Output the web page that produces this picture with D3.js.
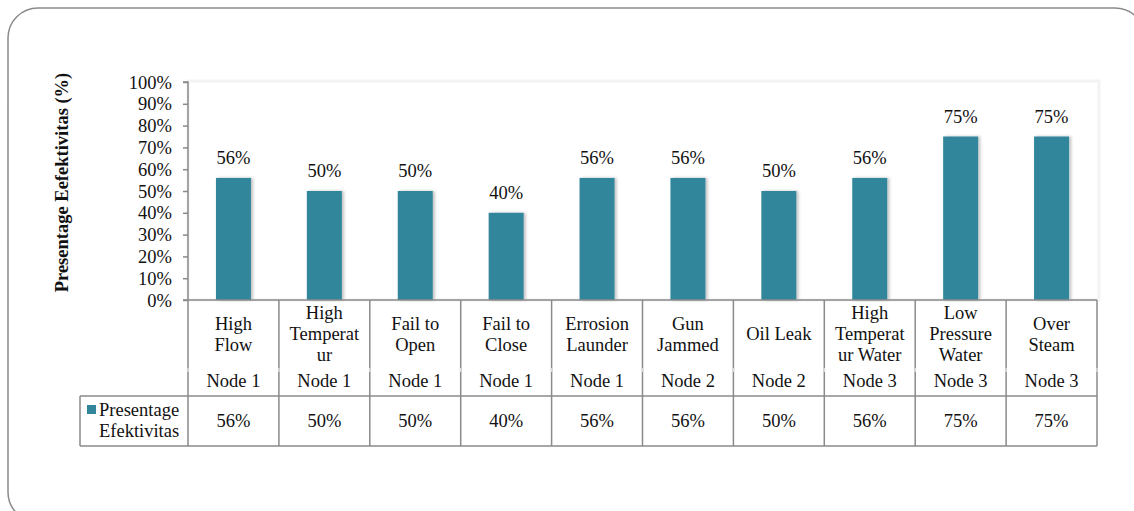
<!DOCTYPE html>
<html>
<head>
<meta charset="utf-8">
<script src="https://cdn.jsdelivr.net/npm/d3@7"></script>
<style>
  html, body { margin: 0; padding: 0; background: #fff; }
  svg { display: block; }
  text { font-family: "Liberation Serif", "Times New Roman", serif; fill: #111; }
</style>
</head>
<body>
<svg id="chart" width="1134" height="511"></svg>
<script>
// ---- data ----
const categories = ["High\nFlow", "High\nTemperat\nur", "Fail to\nOpen", "Fail to\nClose", "Errosion\nLaunder",
                    "Gun\nJammed", "Oil Leak", "High\nTemperat\nur Water", "Low\nPressure\nWater", "Over\nSteam"];
const nodes = ["Node 1", "Node 1", "Node 1", "Node 1", "Node 1", "Node 2", "Node 2", "Node 3", "Node 3", "Node 3"];
const values = [56, 50, 50, 40, 56, 56, 50, 56, 75, 75];
const yTicks = [0, 10, 20, 30, 40, 50, 60, 70, 80, 90, 100];
const seriesName = ["Presentage", "Efektivitas"];
const yTitle = "Presentage Eefektivitas (%)";

// ---- layout ----
const svg = d3.select("#chart");
const pLeft = 188, pRight = 1097, pTop = 82, pBottom = 300;
const barColor = "#31869c";
const lineColor = "#8a8a8a";
const fs = 18.5;

const defs = svg.append("defs");
const f = defs.append("filter").attr("id", "shadow").attr("x", "-20%").attr("y", "-5%").attr("width", "150%").attr("height", "110%");
f.append("feDropShadow").attr("dx", 2).attr("dy", 0).attr("stdDeviation", 1.5).attr("flood-color", "#000").attr("flood-opacity", 0.25);

// outer rounded border
svg.append("rect").attr("x", 8).attr("y", 8).attr("width", 1137).attr("height", 514)
  .attr("rx", 30).attr("ry", 30).attr("fill", "#fff").attr("stroke", "#8a8a8a").attr("stroke-width", 1.5);

// plot area faint frame
svg.append("rect").attr("x", pLeft).attr("y", pTop - 1).attr("width", pRight - pLeft + 2).attr("height", pBottom - pTop + 1)
  .attr("fill", "#fff").attr("stroke", "#f3f3f3").attr("stroke-width", 3);

const x = d3.scaleBand().domain(d3.range(categories.length)).range([pLeft, pRight]).padding(0);
const y = d3.scaleLinear().domain([0, 100]).range([pBottom, pTop]);
const bw = x.bandwidth() * 0.385;

// bars
svg.append("g").selectAll("rect").data(values).join("rect")
  .attr("x", (d, i) => x(i) + x.bandwidth() / 2 - bw / 2)
  .attr("y", d => y(d))
  .attr("width", bw)
  .attr("height", d => y(0) - y(d))
  .attr("fill", barColor)
  .attr("filter", "url(#shadow)");

// data labels
svg.append("g").selectAll("text").data(values).join("text")
  .attr("x", (d, i) => x(i) + x.bandwidth() / 2)
  .attr("y", d => y(d) - 20)
  .attr("dy", "0.33em")
  .attr("text-anchor", "middle")
  .attr("font-size", fs)
  .text(d => d + "%");

// y axis
const yAxis = d3.axisLeft(y).tickValues(yTicks).tickFormat(d => d + "%").tickSize(5).tickPadding(11);
const gy = svg.append("g").attr("transform", `translate(${pLeft},0)`).call(yAxis);
gy.select(".domain").attr("stroke", lineColor).attr("stroke-width", 1.5).attr("d", `M-5,${pTop}H0V${pBottom}`);
gy.selectAll(".tick line").attr("stroke", lineColor).attr("stroke-width", 1.5);
gy.selectAll(".tick text").attr("font-size", fs).attr("font-family", "Liberation Serif, serif").attr("fill", "#111").attr("dy", "0.33em");

// y title
svg.append("text")
  .attr("transform", `translate(68,${(pTop + pBottom) / 2 - 8.5}) rotate(-90)`)
  .attr("text-anchor", "middle")
  .attr("font-size", 18.5)
  .attr("font-weight", "bold")
  .text(yTitle);

// ---- data table ----
const tRowTop = pBottom, tNodeTop = 369, tValTop = 396, tBottom = 446, legLeft = 80;
const tg = svg.append("g").attr("stroke", lineColor).attr("stroke-width", 1.5).attr("fill", "none");
tg.append("line").attr("x1", pLeft - 5).attr("x2", pRight).attr("y1", tRowTop).attr("y2", tRowTop);
tg.append("line").attr("x1", legLeft).attr("x2", pRight).attr("y1", tValTop).attr("y2", tValTop);
tg.append("line").attr("x1", legLeft).attr("x2", pRight).attr("y1", tBottom).attr("y2", tBottom);
const bounds = d3.range(categories.length).map(i => x(i)).concat([pRight]);
tg.selectAll("line.v").data(bounds).join("line").attr("class", "v")
  .attr("x1", d => d).attr("x2", d => d).attr("y1", tRowTop).attr("y2", tBottom);
tg.append("line").attr("x1", legLeft).attr("x2", legLeft).attr("y1", tValTop).attr("y2", tBottom);
svg.append("g").selectAll("line").data(bounds).join("line")
  .attr("x1", d => d).attr("x2", d => d).attr("y1", tNodeTop - 1).attr("y2", tNodeTop + 3)
  .attr("stroke", "#d8d8d8").attr("stroke-width", 1.6);

// category labels
const lh = 21, catCenter = 334;
const catG = svg.append("g");
categories.forEach((c, i) => {
  const lines = c.split("\n");
  const start = catCenter - (lines.length - 1) * lh / 2;
  const t = catG.append("text").attr("text-anchor", "middle").attr("font-size", fs);
  lines.forEach((ln, k) => {
    t.append("tspan").attr("x", x(i) + x.bandwidth() / 2).attr("y", start + k * lh).attr("dy", "0.33em").text(ln);
  });
});

// node labels
svg.append("g").selectAll("text").data(nodes).join("text")
  .attr("x", (d, i) => x(i) + x.bandwidth() / 2).attr("y", 381).attr("dy", "0.33em")
  .attr("text-anchor", "middle").attr("font-size", fs).text(d => d);

// value row
svg.append("g").selectAll("text").data(values).join("text")
  .attr("x", (d, i) => x(i) + x.bandwidth() / 2).attr("y", 421).attr("dy", "0.33em")
  .attr("text-anchor", "middle").attr("font-size", fs).text(d => d + "%");

// legend cell
svg.append("rect").attr("x", 87).attr("y", 405).attr("width", 9).attr("height", 9).attr("fill", barColor);
const lt = svg.append("text").attr("font-size", fs);
lt.append("tspan").attr("x", 99).attr("y", 410).attr("dy", "0.33em").text(seriesName[0]);
lt.append("tspan").attr("x", 99).attr("y", 431).attr("dy", "0.33em").text(seriesName[1]);
</script>
</body>
</html>
